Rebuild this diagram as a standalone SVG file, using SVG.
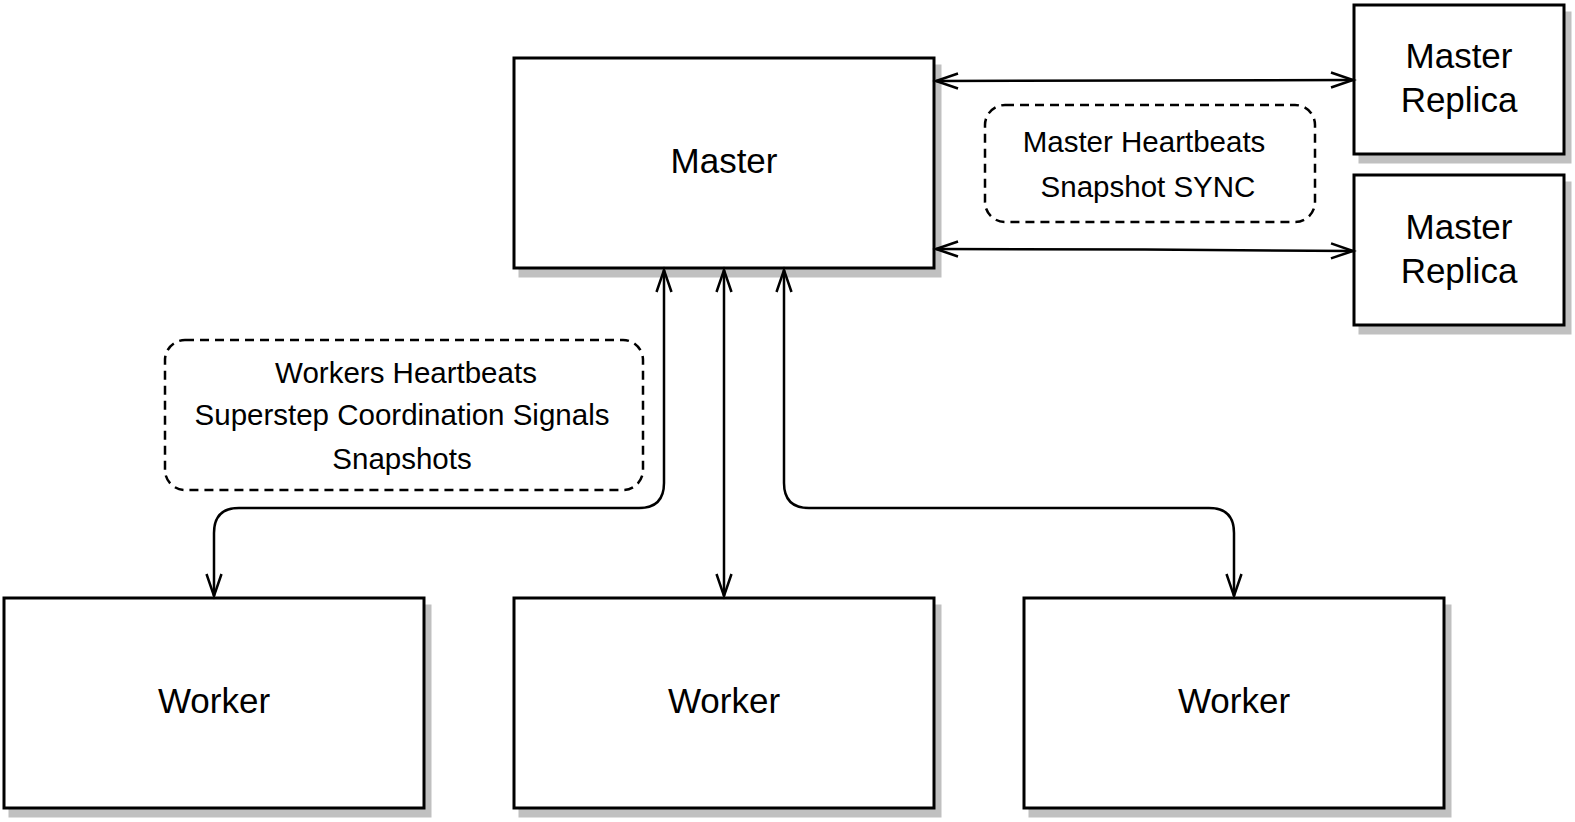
<svg xmlns="http://www.w3.org/2000/svg" width="1575" height="822" viewBox="0 0 1575 822">
  <style>
    .box { fill: #ffffff; stroke: #000000; stroke-width: 3; }
    .shadow { fill: #c0c0c0; stroke: #c0c0c0; stroke-width: 3; }
    .note { fill: none; stroke: #000000; stroke-width: 2.5; stroke-dasharray: 9 6; }
    .conn { fill: none; stroke: #000000; stroke-width: 2.5; marker-start: url(#arr); marker-end: url(#arr); }
    .big { font-family: "Liberation Sans", Arial, sans-serif; font-size: 35px; fill: #000000; text-anchor: middle; }
    .small { font-family: "Liberation Sans", Arial, sans-serif; font-size: 29.5px; fill: #000000; text-anchor: middle; }
  </style>
  <defs>
    <marker id="arr" markerUnits="userSpaceOnUse" markerWidth="26" markerHeight="20" refX="23" refY="10" orient="auto-start-reverse" overflow="visible">
      <path d="M1,2.5 L23,10 L1,17.5" fill="none" stroke="#000000" stroke-width="2.5" stroke-linejoin="miter"/>
    </marker>
  </defs>
  <rect width="1575" height="822" fill="#ffffff"/>

  <g id="master">
    <rect class="shadow" x="520" y="66" width="420" height="210"/>
    <rect class="box" x="514" y="58" width="420" height="210"/>
    <text class="big" x="724" y="173">Master</text>
  </g>

  <g id="replica1">
    <rect class="shadow" x="1360" y="13" width="210" height="149"/>
    <rect class="box" x="1354" y="5" width="210" height="149"/>
    <text class="big" x="1459" y="68">Master</text>
    <text class="big" x="1459" y="112">Replica</text>
  </g>

  <g id="replica2">
    <rect class="shadow" x="1360" y="183" width="210" height="150"/>
    <rect class="box" x="1354" y="175" width="210" height="150"/>
    <text class="big" x="1459" y="239">Master</text>
    <text class="big" x="1459" y="283">Replica</text>
  </g>

  <g id="worker1">
    <rect class="shadow" x="10" y="606" width="420" height="210"/>
    <rect class="box" x="4" y="598" width="420" height="210"/>
    <text class="big" x="214" y="713">Worker</text>
  </g>

  <g id="worker2">
    <rect class="shadow" x="520" y="606" width="420" height="210"/>
    <rect class="box" x="514" y="598" width="420" height="210"/>
    <text class="big" x="724" y="713">Worker</text>
  </g>

  <g id="worker3">
    <rect class="shadow" x="1030" y="606" width="420" height="210"/>
    <rect class="box" x="1024" y="598" width="420" height="210"/>
    <text class="big" x="1234" y="713">Worker</text>
  </g>

  <g id="master-label">
    <rect class="note" x="985" y="105" width="330" height="117" rx="20" ry="20"/>
    <text class="small" x="1144" y="152">Master Heartbeats</text>
    <text class="small" x="1148" y="197">Snapshot SYNC</text>
  </g>

  <g id="worker-label">
    <rect class="note" x="165" y="340" width="478" height="150" rx="20" ry="20"/>
    <text class="small" x="406" y="383">Workers Heartbeats</text>
    <text class="small" x="402" y="425">Superstep Coordination Signals</text>
    <text class="small" x="402" y="469">Snapshots</text>
  </g>

  <g id="connectors">
    <path class="conn" d="M936,81 L1145,80.5 L1353,80"/>
    <path class="conn" d="M936,249 L1145,249.5 L1353,251"/>
    <path class="conn" d="M664,270 L664,483 Q664,508 639,508 L239,508 Q214,508 214,533 L214,596"/>
    <path class="conn" d="M724,270 L724,596"/>
    <path class="conn" d="M784,270 L784,483 Q784,508 809,508 L1209,508 Q1234,508 1234,533 L1234,596"/>
  </g>
</svg>
